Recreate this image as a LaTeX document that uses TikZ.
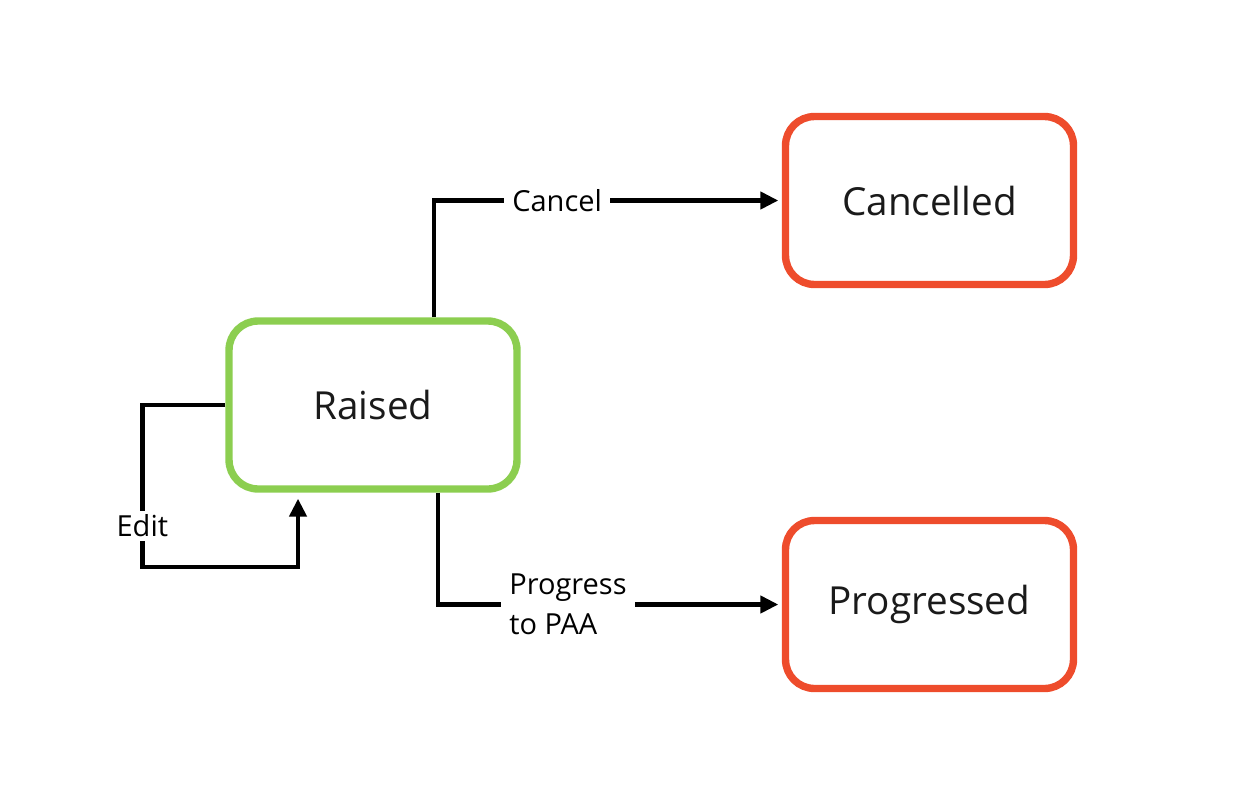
\documentclass[tikz,border=0pt]{standalone}
\usepackage{fontspec}
\setmainfont{Open Sans}
\usetikzlibrary{arrows.meta}
\definecolor{raisedgreen}{RGB}{140,206,80}
\definecolor{endred}{RGB}{238,76,44}
\definecolor{textgray}{RGB}{26,26,26}

\begin{document}
\begin{tikzpicture}[x=0.02cm,y=-0.02cm,>={Triangle[length=3.6mm,width=3.4mm]},line cap=butt,
  state/.style={draw,rounded corners=0.58cm,line width=4.2pt,minimum width=5.76cm,minimum height=3.36cm,fill=white,text=textgray,font=\fontsize{22}{26}\selectfont},
  flow/.style={line width=2.5pt,->},
  lbl/.style={fill=white,font=\fontsize{16.5}{23}\selectfont,inner xsep=4.5pt,inner ysep=2pt}]
\useasboundingbox (0,0) rectangle (1251,799);
\node[state,draw=raisedgreen] (raised) at (373,405) {Raised};
\node[state,draw=endred] (cancelled) at (929.5,200.5) {Cancelled};
\node[state,draw=endred] (progressed) at (929.5,604.5) {Progressed};
\draw[flow,shorten >=2pt] ([xshift=1.22cm]raised.north) |- node[lbl,pos=0.677]{Cancel} (cancelled.west);
\draw[flow,shorten >=2pt] ([xshift=1.3cm]raised.south) |- node[lbl,pos=0.689,align=left]{Progress\\to PAA} (progressed.west);
\draw[flow,shorten >=3.4pt] (raised.west) -- ++(-83,0) -- node[lbl,pos=0.747]{Edit} ++(0,162) -| ([xshift=-1.5cm]raised.south);
\end{tikzpicture}
\end{document}
